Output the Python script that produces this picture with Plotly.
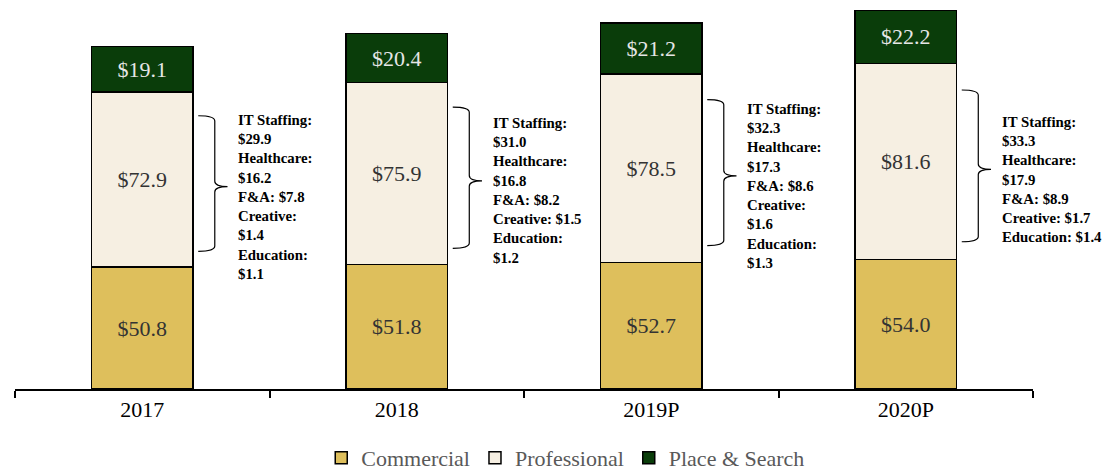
import plotly.graph_objects as go

years = ["2017", "2018", "2019P", "2020P"]
commercial = [50.8, 51.8, 52.7, 54.0]
professional = [72.9, 75.9, 78.5, 81.6]
place_search = [19.1, 20.4, 21.2, 22.2]
breakdown = [
    "IT Staffing:<br>$29.9<br>Healthcare:<br>$16.2<br>F&A: $7.8<br>Creative:<br>$1.4<br>Education:<br>$1.1",
    "IT Staffing:<br>$31.0<br>Healthcare:<br>$16.8<br>F&A: $8.2<br>Creative: $1.5<br>Education:<br>$1.2",
    "IT Staffing:<br>$32.3<br>Healthcare:<br>$17.3<br>F&A: $8.6<br>Creative:<br>$1.6<br>Education:<br>$1.3",
    "IT Staffing:<br>$33.3<br>Healthcare:<br>$17.9<br>F&A: $8.9<br>Creative: $1.7<br>Education: $1.4",
]

SERIF = "Liberation Serif, Times New Roman, serif"
series = [
    ("Commercial", commercial, "#DEBF5C", "#333333"),
    ("Professional", professional, "#F6EFE2", "#333333"),
    ("Place & Search", place_search, "#0A3D0A", "#E6E6E6"),
]

fig = go.Figure()
for name, vals, color, tcolor in series:
    fig.add_trace(go.Bar(
        x=years, y=vals, name=name, width=0.4,
        marker=dict(color=color, line=dict(color="#000000", width=1.5)),
        text=[f"${v:.1f}" for v in vals],
        textposition="inside", insidetextanchor="middle",
        textfont=dict(family=SERIF, size=22, color=tcolor),
        constraintext="none", textangle=0,
        hoverinfo="skip",
    ))

shapes = []
annotations = []
for i, (c, p) in enumerate(zip(commercial, professional)):
    ytop = c + 0.865 * p
    ybot = c + 0.09 * p
    ymid = c + 0.46 * p
    x0 = i + 0.22
    xv = i + 0.285
    xt = i + 0.335
    r = 2.2
    path = (f"M {x0},{ytop} Q {xv},{ytop} {xv},{ytop - r} "
            f"L {xv},{ymid + r} Q {xv},{ymid} {xt},{ymid} "
            f"Q {xv},{ymid} {xv},{ymid - r} "
            f"L {xv},{ybot + r} Q {xv},{ybot} {x0},{ybot}")
    shapes.append(dict(type="path", path=path, xref="x", yref="y",
                       line=dict(color="#000000", width=1.2)))
    annotations.append(dict(
        x=i + 0.37, y=ymid, xref="x", yref="y", text=breakdown[i],
        showarrow=False, xanchor="left", yanchor="middle", align="left",
        yshift=-10,
        font=dict(family=SERIF, size=14.8, color="#000000", weight="bold"),
    ))

fig.update_layout(
    barmode="stack",
    width=1107, height=472,
    margin=dict(l=15, r=74, t=5, b=83, autoexpand=False),
    paper_bgcolor="white", plot_bgcolor="white",
    shapes=shapes, annotations=annotations,
    xaxis=dict(
        type="category", range=[-0.5, 3.5],
        showline=True, linecolor="#000000", linewidth=1.5,
        ticks="outside", tickson="boundaries", ticklen=7, tickwidth=1.5,
        tickcolor="#000000",
        tickfont=dict(family=SERIF, size=22, color="#000000"),
        showgrid=False, zeroline=False, automargin=False,
    ),
    yaxis=dict(range=[0, 160], visible=False, showgrid=False),
    legend=dict(
        orientation="h", x=0.541, xanchor="center", y=-0.125, yanchor="top",
        font=dict(family=SERIF, size=22, color="#595959"),
        traceorder="normal", itemwidth=30,
    ),
    showlegend=True,
)

fig.write_html(
    "out.html",
    config={"displayModeBar": False},
    post_script="document.body.style.margin='0';document.body.style.overflow='hidden';",
)
